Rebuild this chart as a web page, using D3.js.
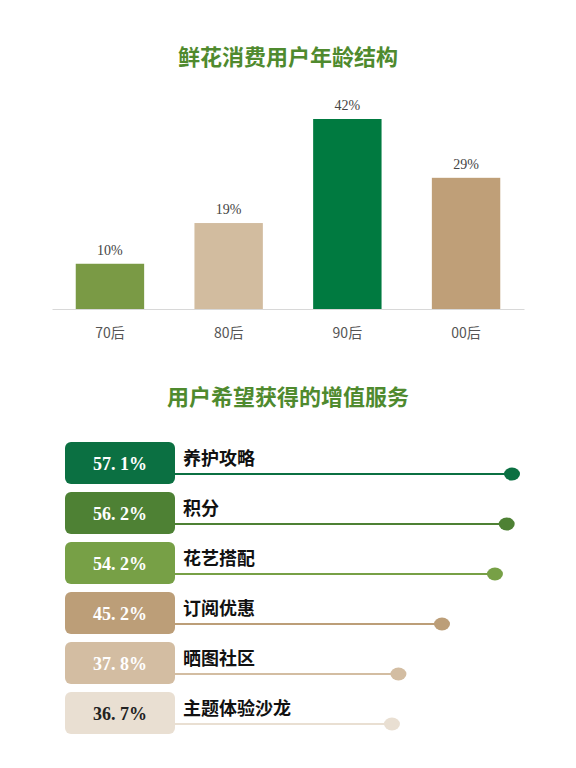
<!DOCTYPE html><html><head><meta charset="utf-8"><script src="https://cdn.jsdelivr.net/npm/d3@7"></script>
<style>body{margin:0;background:#fff}</style></head><body><svg id="c" width="576" height="768"></svg>
<script>
const ages=["70后","80后","90后","00后"];
const ageVals=[10,19,42,29];
const ageColors=["#7a9a45","#d2bc9f","#007a40","#bf9f78"];
const services=["养护攻略","积分","花艺搭配","订阅优惠","晒图社区","主题体验沙龙"];
const serviceVals=[57.1,56.2,54.2,45.2,37.8,36.7];
const serviceColors=["#0b7042","#4e8134","#77a046","#bc9e78","#d3bda2","#e9dfd2"];
const serviceText=["#fff","#fff","#fff","#fff","#fff","#222"];

const svg=d3.select("#c");
const titleStyle=s=>s.attr("text-anchor","middle").attr("fill","#4f8a2e").attr("font-family","Noto Sans CJK SC").attr("font-weight","bold").attr("font-size",22);
svg.append("text").attr("x",288).attr("y",65).text("鲜花消费用户年龄结构").call(titleStyle);
svg.append("text").attr("x",288).attr("y",405).text("用户希望获得的增值服务").call(titleStyle);

const x=d3.scaleBand().domain(ages).range([52,524]).paddingInner(0.4237).paddingOuter(0.2);
const y=d3.scaleLinear().domain([0,42]).range([309,119]);
svg.selectAll(".bar").data(ages).join("rect").attr("x",d=>x(d)).attr("width",x.bandwidth())
 .attr("y",(d,i)=>y(ageVals[i])).attr("height",(d,i)=>309-y(ageVals[i])).attr("fill",(d,i)=>ageColors[i]);
svg.selectAll(".bl").data(ages).join("text").attr("x",d=>x(d)+x.bandwidth()/2).attr("y",(d,i)=>y(ageVals[i])-9)
 .attr("text-anchor","middle").attr("font-family","Liberation Serif, Noto Sans CJK SC").attr("font-size",14).attr("fill","#444").text((d,i)=>ageVals[i]+"%");
const ax=svg.append("g").attr("transform","translate(0,309)").call(d3.axisBottom(x).tickSize(0).tickPadding(19));
ax.select(".domain").attr("stroke","#d8d8d8");
ax.selectAll("text").attr("font-family","Noto Sans CJK SC").attr("font-size",14).attr("fill","#555");

const sx=d3.scaleLinear().domain([0,57.1]).range([176,512]);
const rowY=d3.scaleBand().domain(services).range([438,738]);
services.forEach((s,i)=>{
 const cy=rowY(s)+25;
 const g=svg.append("g");
 g.append("line").attr("x1",175).attr("x2",sx(serviceVals[i])).attr("y1",cy+11).attr("y2",cy+11).attr("stroke",serviceColors[i]).attr("stroke-width",2);
 g.append("ellipse").attr("cx",sx(serviceVals[i])).attr("cy",cy+11).attr("rx",8).attr("ry",6.5).attr("fill",serviceColors[i]);
 g.append("rect").attr("x",65).attr("y",cy-21).attr("width",110).attr("height",42).attr("rx",6).attr("fill",serviceColors[i]);
 g.append("text").attr("x",120).attr("y",cy+7).attr("text-anchor","middle").attr("font-family","Liberation Serif").attr("font-weight","bold").attr("font-size",18).attr("fill",serviceText[i]).text(serviceVals[i].toFixed(1).replace(".",". ")+"%");
 g.append("text").attr("x",183).attr("y",cy+2).attr("font-family","Noto Sans CJK SC").attr("font-weight","bold").attr("font-size",18).attr("fill","#111").text(s);
});
</script></body></html>
